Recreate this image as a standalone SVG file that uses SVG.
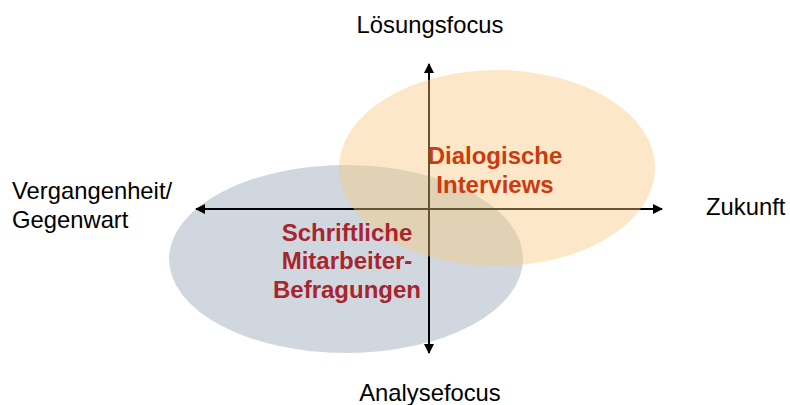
<svg xmlns="http://www.w3.org/2000/svg" width="790" height="405" viewBox="0 0 790 405">
<style>
.lbl{font-family:"Liberation Sans",Arial,sans-serif;font-size:23.8px;fill:#000}
.big{font-family:"Liberation Sans",Arial,sans-serif;font-size:24px;font-weight:bold;text-anchor:middle}
.axis{stroke:#000;stroke-width:2;fill:none}
</style>
<defs>
<marker id="ah" viewBox="0 0 10 10" refX="9" refY="5" markerWidth="5" markerHeight="5" orient="auto-start-reverse">
<path d="M0,0 L10,5 L0,10 z" fill="#000"/>
</marker>
</defs>
<rect width="790" height="405" fill="#fff"/>
<g id="ellipse-befragungen"><ellipse cx="346" cy="259" rx="177" ry="94" fill="#D0D7DF"/></g>
<g id="connectors">
<line class="axis" x1="429" y1="352" x2="429" y2="64" marker-end="url(#ah)"/>
<line class="axis" x1="429" y1="209" x2="196" y2="209" marker-end="url(#ah)"/>
<line class="axis" x1="429" y1="209" x2="662" y2="209" marker-end="url(#ah)"/>
<line class="axis" x1="429" y1="209" x2="429" y2="353" marker-end="url(#ah)"/>
</g>
<g id="ellipse-interviews"><ellipse cx="497" cy="168" rx="158" ry="98" fill="#F9C77C" fill-opacity="0.42"/></g>
<g id="axis-labels">
<text class="lbl" x="430" y="33" text-anchor="middle">Lösungsfocus</text>
<text class="lbl" x="430" y="401" text-anchor="middle">Analysefocus</text>
<text class="lbl" x="706" y="215">Zukunft</text>
<text class="lbl" x="12" y="199">Vergangenheit/</text>
<text class="lbl" x="12" y="228">Gegenwart</text>
</g>
<g id="node-interviews">
<text class="big" x="495" y="164" fill="#CC3A0E">Dialogische</text>
<text class="big" x="495" y="193" fill="#CC3A0E">Interviews</text>
</g>
<g id="node-befragungen">
<text class="big" x="347" y="241" fill="#A8252E">Schriftliche</text>
<text class="big" x="347" y="269" fill="#A8252E">Mitarbeiter-</text>
<text class="big" x="347" y="298" fill="#A8252E">Befragungen</text>
</g>
</svg>
